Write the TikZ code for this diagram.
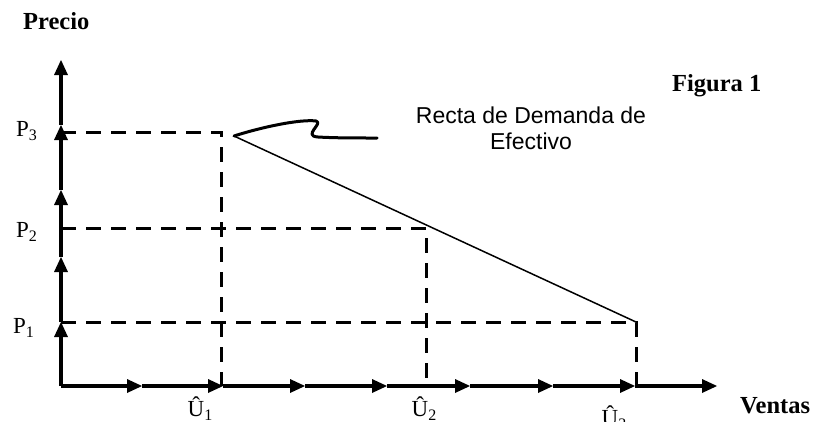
\documentclass[tikz,border=0pt]{standalone}
\usepackage{fontspec}
\setmainfont{Liberation Serif}
\newfontfamily\arialfont{Liberation Sans}
\usetikzlibrary{arrows.meta}
\newcommand{\lowsub}[1]{\raisebox{-0.18em}{\fontsize{16}{16}\selectfont #1}}
\begin{document}
\begin{tikzpicture}[x=1pt,y=-1pt,
  axisarrow/.style={line width=3.2pt,-{Triangle[length=15pt,width=14pt,line width=0pt]}},
  guide/.style={line width=3pt,dash pattern=on 15pt off 10pt},
  demand/.style={line width=1.5pt},
  callout/.style={line width=3pt,line cap=round,line join=round},
  seriflbl/.style={font=\fontsize{23}{26}\selectfont,inner sep=0pt},
  boldlbl/.style={font=\fontsize{24.5}{28}\selectfont\bfseries,inner sep=0pt},
  sanslbl/.style={font=\arialfont\fontsize{23}{26}\selectfont,align=center,inner sep=0pt}]
\useasboundingbox (0,0) rectangle (818,421);
% axis points
\coordinate (O) at (61,386);
\coordinate (v1) at (61,322);
\coordinate (v2) at (61,257);
\coordinate (v3) at (61,190);
\coordinate (v4) at (61,125);
\coordinate (v5) at (61,60);
\coordinate (h1) at (142,386);
\coordinate (h2) at (223,386);
\coordinate (h3) at (305,386);
\coordinate (h4) at (387,386);
\coordinate (h5) at (470,386);
\coordinate (h6) at (553,386);
\coordinate (h7) at (635,386);
\coordinate (h8) at (717,386);
% axes made of chained arrows
\draw[axisarrow] (O) -- (v1);
\draw[axisarrow] (v1) -- (v2);
\draw[axisarrow] (v2) -- (v3);
\draw[axisarrow] (v3) -- (v4);
\draw[axisarrow] (v4) -- (v5);
\draw[axisarrow] (O) -- (h1);
\draw[axisarrow] (h1) -- (h2);
\draw[axisarrow] (h2) -- (h3);
\draw[axisarrow] (h3) -- (h4);
\draw[axisarrow] (h4) -- (h5);
\draw[axisarrow] (h5) -- (h6);
\draw[axisarrow] (h6) -- (h7);
\draw[axisarrow] (h7) -- (h8);
% guide points
\coordinate (yP3) at (61,132);
\coordinate (yP2) at (61,228);
\coordinate (yP1) at (61,322);
\coordinate (c3) at (221,132);
\coordinate (c2) at (426,228);
\coordinate (c1) at (636,322);
\coordinate (xU1) at (221,386);
\coordinate (xU2) at (426,386);
\coordinate (xU3) at (636,386);
\draw[guide] (yP3) -- (c3) -- (xU1);
\draw[guide] (yP2) -- (c2) -- (xU2);
\draw[guide] (yP1) -- (c1) -- (xU3);
% demand line
\coordinate (d0) at (234,136);
\draw[demand] (d0) -- (c1);
% callout
\coordinate (ce) at (377,138);
\draw[callout] (d0) .. controls (262,127) and (300,119) .. (316,121)
  .. controls (324,123) and (302,136) .. (318,137)
  .. controls (335,138) and (355,138) .. (ce);
% labels
\node[sanslbl,anchor=base] (lab) at (531,149) {Recta de Demanda de\\Efectivo};
\node[boldlbl,anchor=base west] (precio) at (23,29) {Precio};
\node[boldlbl,anchor=base west] (fig) at (672,91) {Figura 1};
\node[boldlbl,anchor=base west] (ventas) at (740,413) {Ventas};
\node[seriflbl,anchor=base west] (P3) at (16,136) {P\lowsub{3}};
\node[seriflbl,anchor=base west] (P2) at (16,237) {P\lowsub{2}};
\node[seriflbl,anchor=base west] (P1) at (13,333) {P\lowsub{1}};
\node[seriflbl,anchor=base] (U1) at (200,416) {Û\lowsub{1}};
\node[seriflbl,anchor=base] (U2) at (424,416) {Û\lowsub{2}};
\node[seriflbl,anchor=base] (U3) at (614,425) {Û\lowsub{3}};
\end{tikzpicture}
\end{document}
